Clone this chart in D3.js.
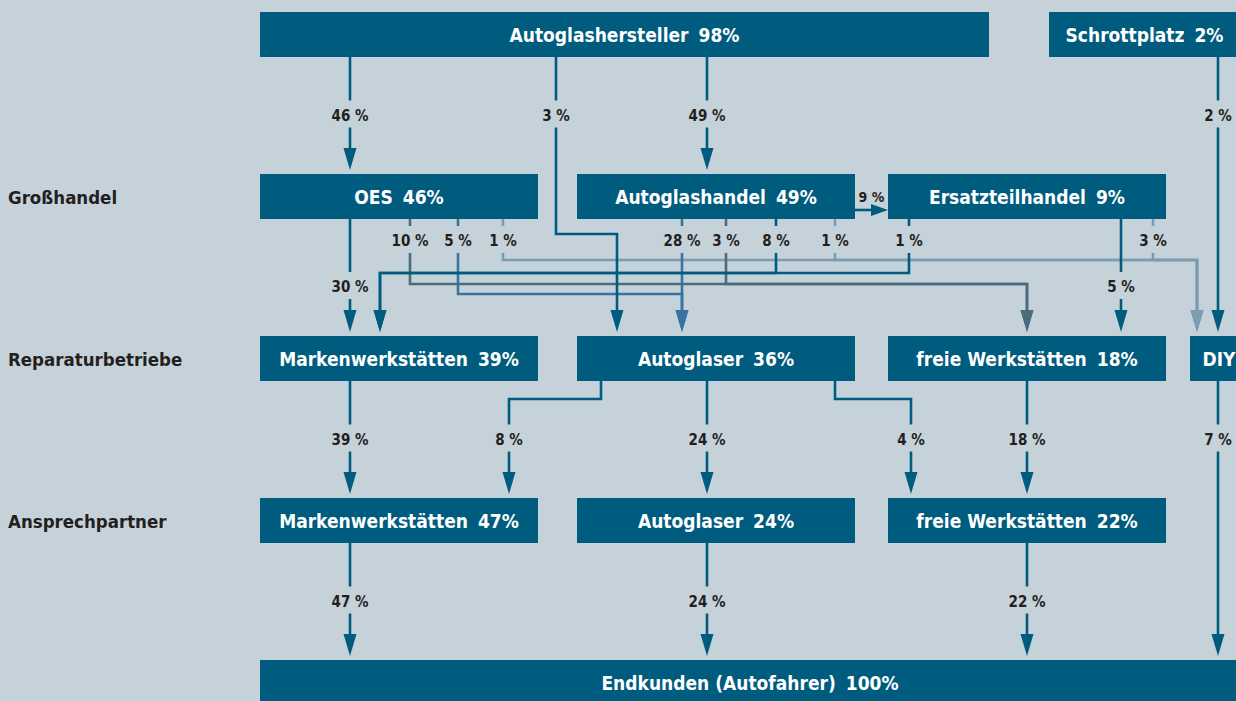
<!DOCTYPE html>
<html>
<head>
<meta charset="utf-8">
<script src="https://cdnjs.cloudflare.com/ajax/libs/d3/7.8.5/d3.min.js"></script>
<style>
  html, body { margin: 0; padding: 0; background: #c5d2da; overflow: hidden; }
  svg { display: block; font-family: "Liberation Sans Narrow", "DejaVu Sans Condensed", sans-serif; font-weight: bold; }
</style>
</head>
<body>
<div class="canvas"></div>
<script>
// ---- data ----
const rowLabels = ["Großhandel", "Reparaturbetriebe", "Ansprechpartner"];

const nodeIds    = ["hersteller", "schrott", "oes", "handel", "ersatz", "mw1", "ag1", "fw1", "diy", "mw2", "ag2", "fw2", "end"];
const nodeNames  = ["Autoglashersteller", "Schrottplatz", "OES", "Autoglashandel", "Ersatzteilhandel",
                    "Markenwerkstätten", "Autoglaser", "freie Werkstätten", "DIY",
                    "Markenwerkstätten", "Autoglaser", "freie Werkstätten", "Endkunden (Autofahrer)"];
const nodeShares = [98, 2, 46, 49, 9, 39, 36, 18, null, 47, 24, 22, 100];

const flowFrom   = ["hersteller", "hersteller", "hersteller", "schrott",
                    "oes", "oes", "oes", "oes",
                    "handel", "handel", "handel", "handel", "handel",
                    "ersatz", "ersatz", "ersatz",
                    "mw1", "ag1", "ag1", "ag1", "fw1", "diy",
                    "mw2", "ag2", "fw2"];
const flowTo     = ["oes", "ag1", "handel", "diy",
                    "mw1", "fw1", "ag1", "diy",
                    "ersatz", "ag1", "fw1", "mw1", "diy",
                    "mw1", "fw1", "diy",
                    "mw2", "mw2", "ag2", "fw2", "fw2", "end",
                    "end", "end", "end"];
const flowValues = [46, 3, 49, 2,
                    30, 10, 5, 1,
                    9, 28, 3, 8, 1,
                    1, 5, 3,
                    39, 8, 24, 4, 18, 7,
                    47, 24, 22];

// ---- layout (kept apart from the data) ----
const dims = { width: 1236, height: 701 };
const colours = {
  bg: "#c5d2da", box: "#005c7e", ink: "#231f20",
  dark: "#005c7e", slate: "#4b6c7e", blue: "#3873a3", light: "#7c9db0"
};

// row tops and column left edges
const y = d3.scaleLinear().domain([0, 4]).range([12, 660]);
const colLeft = d3.scaleOrdinal().domain([0, 1, 2]).range([260, 577, 888]);
const colW = 278, boxH = 45;

const nodeLayout = {
  hersteller: { row: 0, x0: 260, x1: 989 },
  schrott:    { row: 0, x0: 1049, x1: 1240 },
  oes:    { row: 1, col: 0 }, handel: { row: 1, col: 1 }, ersatz: { row: 1, col: 2 },
  mw1:    { row: 2, col: 0 }, ag1:    { row: 2, col: 1 }, fw1:    { row: 2, col: 2 },
  diy:    { row: 2, x0: 1190, x1: 1248 },
  mw2:    { row: 3, col: 0 }, ag2:    { row: 3, col: 1 }, fw2:    { row: 3, col: 2 },
  end:    { row: 4, x0: 260, x1: 1240 }
};

// routing per flow: sx source x, tx target x (elbow), lane offset below the gap top,
// label: mid / upper / lower, on: which vertical carries the label
const routes = [
  { sx: 350, label: "mid", c: "dark" },
  { sx: 556, tx: 617, lane: 15, label: "mid", c: "dark" },
  { sx: 707, label: "mid", c: "dark" },
  { sx: 1218, label: "mid", c: "dark" },

  { sx: 350, label: "lower", c: "dark" },
  { sx: 410, tx: 1027, lane: 65, label: "upper", c: "slate" },
  { sx: 458, tx: 682, lane: 75, label: "upper", c: "blue" },
  { sx: 503, tx: 1197, lane: 41, label: "upper", c: "light" },

  { horizontal: true, c: "dark" },
  { sx: 682, label: "upper", c: "blue" },
  { sx: 726, tx: 1027, lane: 65, label: "upper", c: "slate" },
  { sx: 776, tx: 380, lane: 54, label: "upper", c: "dark" },
  { sx: 835, tx: 1197, lane: 41, label: "upper", c: "light" },

  { sx: 909, tx: 380, lane: 54, label: "upper", c: "dark" },
  { sx: 1121, label: "lower", c: "dark" },
  { sx: 1153, tx: 1197, lane: 41, label: "upper", c: "light" },

  { sx: 350, label: "mid", c: "dark" },
  { sx: 601, tx: 509, lane: 18, label: "mid", on: "last", c: "dark" },
  { sx: 707, label: "mid", c: "dark" },
  { sx: 835, tx: 911, lane: 18, label: "mid", on: "last", c: "dark" },
  { sx: 1027, label: "mid", c: "dark" },
  { sx: 1218, label: "mid", c: "dark" },

  { sx: 350, label: "mid", c: "dark" },
  { sx: 707, label: "mid", c: "dark" },
  { sx: 1027, label: "mid", c: "dark" }
];

const headLen = 22, headHalf = 6.5, tipGap = 4, gapUp = 15, gapDown = 12;

// ---- build ----
const nodes = nodeIds.map((id, i) => {
  const L = nodeLayout[id];
  const x0 = L.col != null ? colLeft(L.col) : L.x0;
  const x1 = L.col != null ? x0 + colW : L.x1;
  return { id, name: nodeNames[i], share: nodeShares[i], row: L.row, x0, x1, top: y(L.row), bottom: y(L.row) + boxH };
});
const byId = new Map(nodes.map(n => [n.id, n]));

const flows = flowValues.map((v, i) => ({
  value: v, source: byId.get(flowFrom[i]), target: byId.get(flowTo[i]), ...routes[i]
}));

const labelY = f => {
  const s = f.source, nextTop = y(s.row + 1);
  if (f.label === "upper") return s.bottom + 22;
  if (f.label === "lower") return nextTop - 49;
  return (s.bottom + nextTop) / 2;
};
const labelX = f => (f.on === "last" ? f.tx : f.sx);

function flowPath(f) {
  const s = f.source, t = f.target, p = d3.path();
  if (f.horizontal) {
    const yy = s.top + 36;
    p.moveTo(s.x1, yy); p.lineTo(t.x0 - 17 + 2, yy);
    return p.toString();
  }
  const ly = labelY(f), end = t.top - tipGap - headLen + 2;
  if (f.tx == null) {
    p.moveTo(f.sx, s.bottom); p.lineTo(f.sx, ly - gapUp);
    p.moveTo(f.sx, ly + gapDown); p.lineTo(f.sx, end);
    return p.toString();
  }
  const lane = y(t.row - 1) + boxH + f.lane;
  if (f.on === "last") {
    p.moveTo(f.sx, s.bottom); p.lineTo(f.sx, lane); p.lineTo(f.tx, lane); p.lineTo(f.tx, ly - gapUp);
    p.moveTo(f.tx, ly + gapDown); p.lineTo(f.tx, end);
  } else {
    p.moveTo(f.sx, s.bottom); p.lineTo(f.sx, ly - gapUp);
    p.moveTo(f.sx, ly + gapDown); p.lineTo(f.sx, lane); p.lineTo(f.tx, lane); p.lineTo(f.tx, end);
  }
  return p.toString();
}

function headPath(f) {
  const t = f.target, p = d3.path();
  if (f.horizontal) {
    const yy = f.source.top + 36, tip = t.x0;
    p.moveTo(tip - 17, yy - 6); p.lineTo(tip, yy); p.lineTo(tip - 17, yy + 6); p.closePath();
    return p.toString();
  }
  const x = f.tx != null ? f.tx : f.sx, tip = t.top - tipGap;
  p.moveTo(x - headHalf, tip - headLen); p.lineTo(x + headHalf, tip - headLen); p.lineTo(x, tip); p.closePath();
  return p.toString();
}

// ---- draw ----
const svg = d3.select('.canvas')
  .append('svg')
  .attr('width', dims.width)
  .attr('height', dims.height);

svg.append('rect').attr('width', dims.width).attr('height', dims.height).attr('fill', colours.bg);

// row captions
svg.append('g').selectAll('text')
  .data(rowLabels)
  .enter().append('text')
    .attr('x', 8)
    .attr('y', (d, i) => y(i + 1) + boxH / 2 + 7)
    .attr('font-size', 18.5)
    .attr('fill', colours.ink)
    .text(d => d);

// light lines go underneath the others
const order = { light: 0, slate: 1, blue: 2, dark: 3 };
const sorted = flows.slice().sort((a, b) => order[a.c] - order[b.c]);

const links = svg.append('g').selectAll('g')
  .data(sorted)
  .enter().append('g');

links.append('path')
  .attr('d', flowPath)
  .attr('fill', 'none')
  .attr('stroke', d => colours[d.c])
  .attr('stroke-width', 2.6)
  .attr('stroke-linejoin', 'miter');

links.append('path')
  .attr('d', headPath)
  .attr('fill', d => colours[d.c]);

// flow labels
svg.append('g').selectAll('text')
  .data(flows)
  .enter().append('text')
    .attr('x', d => d.horizontal ? (d.source.x1 + d.target.x0) / 2 : labelX(d))
    .attr('y', d => d.horizontal ? d.source.top + 28 : labelY(d) + 5)
    .attr('text-anchor', 'middle')
    .attr('font-size', d => d.horizontal ? 14 : 15)
    .attr('fill', colours.ink)
    .text(d => d.value + " %");

// boxes
const boxes = svg.append('g').selectAll('g')
  .data(nodes)
  .enter().append('g');

boxes.append('rect')
  .attr('x', d => d.x0)
  .attr('y', d => d.top)
  .attr('width', d => d.x1 - d.x0)
  .attr('height', d => d.id === 'end' ? boxH + 10 : boxH)
  .attr('fill', colours.box);

const label = boxes.append('text')
  .attr('x', d => (d.x0 + d.x1) / 2)
  .attr('y', d => d.top + boxH / 2 + 7)
  .attr('text-anchor', 'middle')
  .attr('font-size', 19)
  .attr('fill', '#fff');

label.append('tspan').text(d => d.name);
label.filter(d => d.share != null)
  .append('tspan')
    .attr('dx', 10)
    .text(d => d.share + "%");
</script>
</body>
</html>
